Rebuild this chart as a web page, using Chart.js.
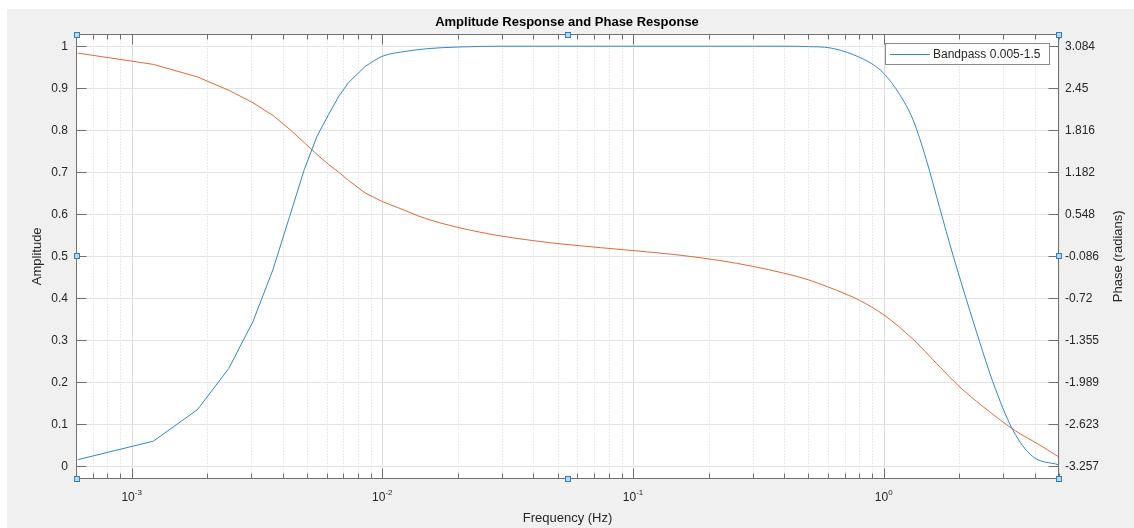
<!DOCTYPE html>
<html>
<head>
<meta charset="utf-8">
<script src="https://cdn.jsdelivr.net/npm/chart.js@4.4.1/dist/chart.umd.min.js"></script>
<style>
  html, body { margin: 0; padding: 0; background: #fff; }
  #wrap { width: 1134px; height: 528px; }
</style>
</head>
<body>
<div id="wrap"><canvas id="chart" width="1134" height="528"></canvas></div>
<script>
// amplitude response (left axis)
const ampFreq = [0.00061, 0.00122, 0.00183, 0.00244, 0.00305, 0.00366, 0.00427, 0.00488, 0.00549, 0.0061,
  0.00671, 0.00732, 0.00854, 0.01, 0.0125, 0.015, 0.02, 0.03, 0.1, 0.3, 0.4, 0.5, 0.61, 0.755, 0.908,
  0.994, 1.158, 1.308, 1.478, 1.67, 1.886, 2.131, 2.408, 2.72, 3.27, 3.92, 4.97];
const ampValues = [0.016, 0.060, 0.135, 0.233, 0.345, 0.468, 0.595, 0.706, 0.786, 0.837,
  0.881, 0.913, 0.952, 0.976, 0.988, 0.994, 0.998, 1.0, 1.0, 1.0, 1.0, 0.999, 0.996, 0.980, 0.956,
  0.937, 0.885, 0.825, 0.730, 0.616, 0.504, 0.399, 0.298, 0.202, 0.087, 0.024, 0.004];

// phase response (right axis, radians)
const phaseFreq = [0.00061, 0.00122, 0.00183, 0.00244, 0.00305, 0.00366, 0.00427, 0.00488, 0.00549, 0.0061,
  0.00671, 0.00732, 0.00854, 0.01, 0.0115, 0.0147, 0.02, 0.0297, 0.04, 0.055, 0.1, 0.146, 0.222, 0.302,
  0.398, 0.5, 0.6, 0.7, 0.8, 1.0, 1.31, 1.62, 2.0, 2.48, 3.32, 4.17, 4.97];
const phaseValues = [2.98, 2.81, 2.62, 2.42, 2.23, 2.04, 1.83, 1.63, 1.45, 1.30,
  1.18, 1.06, 0.87, 0.74, 0.65, 0.49, 0.35, 0.22, 0.15, 0.09, 0.0, -0.06, -0.15, -0.24,
  -0.34, -0.44, -0.55, -0.65, -0.75, -0.97, -1.34, -1.70, -2.05, -2.35, -2.71, -2.93, -3.11];

// the first samples are far apart on the log axis and drawn as straight segments
const sparseCount = 13;

const ampTicks = [0, 0.1, 0.2, 0.3, 0.4, 0.5, 0.6, 0.7, 0.8, 0.9, 1];
const phaseTickLabels = ['-3.257', '-2.623', '-1.989', '-1.355', '-0.72', '-0.086', '0.548', '1.182', '1.816', '2.45', '3.084'];
const decades = [-4, -3, -2, -1, 0];
const seriesLabel = 'Bandpass 0.005-1.5';

const freqMin = 0.00061, freqMax = 5;
const ampMin = -0.03, ampMax = 1.03;
const phaseLow = -3.257, phaseHigh = 3.084;
const phaseMin = phaseLow + (phaseHigh - phaseLow) * ampMin;
const phaseMax = phaseLow + (phaseHigh - phaseLow) * ampMax;

const FONT = '"Liberation Sans", Arial, Helvetica, sans-serif';
const BLUE = '#2f8acb', ORANGE = '#de6a3a';
const AXIS = '#707070', TEXT = '#262626';

const isMajor = v => Math.abs(Math.log10(v) - Math.round(Math.log10(v))) < 1e-9;
const toPoints = (xs, ys) => xs.map((f, i) => ({ x: f, y: ys[i] }));

const matlabLook = {
  id: 'matlabLook',
  beforeDraw(chart) {
    const ctx = chart.ctx, a = chart.chartArea;
    ctx.save();
    ctx.fillStyle = '#f0f0f0';
    ctx.fillRect(7, 9, chart.width - 7, chart.height - 9);
    ctx.fillStyle = '#ffffff';
    ctx.fillRect(a.left, a.top, a.right - a.left, a.bottom - a.top);
    ctx.restore();
  },
  beforeDatasetsDraw(chart) {
    const ctx = chart.ctx, a = chart.chartArea;
    const x = chart.scales.x, y = chart.scales.y;
    ctx.save();
    ctx.lineWidth = 1;
    // x grid: decades solid, the rest dotted
    x.ticks.forEach(t => {
      const px = Math.round(x.getPixelForValue(t.value)) + 0.5;
      ctx.beginPath();
      if (isMajor(t.value)) { ctx.strokeStyle = '#dddddd'; ctx.setLineDash([]); }
      else { ctx.strokeStyle = '#d6d6d6'; ctx.setLineDash([1, 2]); }
      ctx.moveTo(px, a.top); ctx.lineTo(px, a.bottom); ctx.stroke();
    });
    ctx.setLineDash([]);
    ctx.strokeStyle = '#e4e4e4';
    ampTicks.forEach(v => {
      const py = Math.round(y.getPixelForValue(v)) + 0.5;
      ctx.beginPath(); ctx.moveTo(a.left, py); ctx.lineTo(a.right, py); ctx.stroke();
    });
    ctx.restore();
  },
  afterDatasetsDraw(chart) {
    const ctx = chart.ctx, a = chart.chartArea;
    const x = chart.scales.x, y = chart.scales.y, y1 = chart.scales.y1;
    const L = Math.round(a.left) + 0.5, R = Math.round(a.right) - 0.5;
    const T = Math.round(a.top) + 0.5, B = Math.round(a.bottom) - 0.5;
    ctx.save();
    ctx.strokeStyle = AXIS;
    ctx.lineWidth = 1;
    ctx.strokeRect(L, T, R - L, B - T);
    // inward ticks
    ctx.beginPath();
    ampTicks.forEach(v => {
      const py = Math.round(y.getPixelForValue(v)) + 0.5;
      ctx.moveTo(L, py); ctx.lineTo(L + 10, py);
    });
    y1.ticks.forEach(t => {
      const py = Math.round(y1.getPixelForValue(t.value)) + 0.5;
      ctx.moveTo(R, py); ctx.lineTo(R - 10, py);
    });
    x.ticks.forEach(t => {
      const px = Math.round(x.getPixelForValue(t.value)) + 0.5;
      const len = isMajor(t.value) ? 10 : 5;
      ctx.moveTo(px, B); ctx.lineTo(px, B - len);
      ctx.moveTo(px, T); ctx.lineTo(px, T + len);
    });
    ctx.stroke();

    // x tick labels 10^n
    ctx.fillStyle = TEXT;
    ctx.textBaseline = 'alphabetic';
    ctx.textAlign = 'left';
    decades.forEach(e => {
      const v = Math.pow(10, e);
      if (v < freqMin || v > freqMax) return;
      const px = x.getPixelForValue(v);
      const exp = String(e);
      ctx.font = '12px ' + FONT;
      const w1 = ctx.measureText('10').width;
      ctx.font = '8px ' + FONT;
      const w2 = ctx.measureText(exp).width;
      const sx = px - (w1 + w2) / 2;
      ctx.font = '12px ' + FONT;
      ctx.fillText('10', sx, a.bottom + 22);
      ctx.font = '8px ' + FONT;
      ctx.fillText(exp, sx + w1, a.bottom + 16);
    });

    // right axis title, reading bottom to top
    ctx.save();
    ctx.translate(1118, (a.top + a.bottom) / 2);
    ctx.rotate(-Math.PI / 2);
    ctx.font = '13px ' + FONT;
    ctx.textAlign = 'center';
    ctx.textBaseline = 'middle';
    ctx.fillText('Phase (radians)', 0, 0);
    ctx.restore();

    // legend box inside the axes
    ctx.font = '12px ' + FONT;
    const tw = ctx.measureText(seriesLabel).width;
    const bw = Math.round(48 + tw + 9), bh = 21;
    const bx = Math.round(a.right) - 10 - bw, by = Math.round(a.top) + 9;
    ctx.fillStyle = '#ffffff';
    ctx.fillRect(bx, by, bw, bh);
    ctx.strokeStyle = '#8c8c8c';
    ctx.strokeRect(bx + 0.5, by + 0.5, bw, bh);
    ctx.strokeStyle = BLUE;
    ctx.beginPath();
    ctx.moveTo(bx + 5, by + 11.5); ctx.lineTo(bx + 45, by + 11.5);
    ctx.stroke();
    ctx.fillStyle = TEXT;
    ctx.textAlign = 'left';
    ctx.textBaseline = 'middle';
    ctx.fillText(seriesLabel, bx + 48, by + 11.5);

    // selection handles at corners and mid-edges
    const cx = Math.round((a.left + a.right) / 2), cy = Math.round((a.top + a.bottom) / 2);
    const pts = [[L, T], [cx, T], [R, T], [L, cy], [R, cy], [L, B], [cx, B], [R, B]];
    ctx.fillStyle = '#bcd8f0';
    ctx.strokeStyle = '#2f7fc1';
    pts.forEach(p => {
      const hx = Math.round(p[0]) - 3, hy = Math.round(p[1]) - 3;
      ctx.fillRect(hx, hy, 6, 6);
      ctx.strokeRect(hx + 0.5, hy + 0.5, 5, 5);
    });
    ctx.restore();
  }
};

const line = (data, color, axis, smooth) => ({
  data,
  borderColor: color,
  borderWidth: 1,
  pointRadius: 0,
  tension: 0,
  cubicInterpolationMode: smooth ? 'monotone' : 'default',
  yAxisID: axis
});

new Chart(document.getElementById('chart'), {
  type: 'line',
  data: {
    datasets: [
      line(toPoints(ampFreq.slice(0, sparseCount), ampValues.slice(0, sparseCount)), BLUE, 'y', false),
      line(toPoints(ampFreq.slice(sparseCount - 1), ampValues.slice(sparseCount - 1)), BLUE, 'y', true),
      line(toPoints(phaseFreq.slice(0, sparseCount), phaseValues.slice(0, sparseCount)), ORANGE, 'y1', false),
      line(toPoints(phaseFreq.slice(sparseCount - 1), phaseValues.slice(sparseCount - 1)), ORANGE, 'y1', true)
    ]
  },
  options: {
    responsive: false,
    animation: false,
    layout: { padding: 0 },
    plugins: {
      legend: { display: false },
      tooltip: { enabled: false },
      title: {
        display: true,
        text: 'Amplitude Response and Phase Response',
        color: '#000',
        font: { size: 13, weight: 'bold', family: FONT },
        padding: { top: 15, bottom: 3 }
      }
    },
    scales: {
      x: {
        type: 'logarithmic',
        min: freqMin,
        max: freqMax,
        afterBuildTicks: s => {
          const t = [];
          decades.forEach(e => {
            for (let m = 1; m <= 9; m++) {
              const v = m * Math.pow(10, e);
              if (v >= freqMin && v <= freqMax) t.push({ value: v });
            }
          });
          s.ticks = t;
        },
        afterFit: s => { s.height = 49; },
        ticks: { display: false },
        grid: { display: false },
        border: { display: false },
        title: {
          display: true,
          text: 'Frequency (Hz)',
          color: TEXT,
          font: { size: 13, family: FONT },
          padding: { top: 0, bottom: 2 }
        }
      },
      y: {
        position: 'left',
        min: ampMin,
        max: ampMax,
        afterBuildTicks: s => { s.ticks = ampTicks.map(v => ({ value: v })); },
        afterFit: s => { s.width = 76; },
        ticks: {
          padding: 8,
          color: TEXT,
          font: { size: 12, family: FONT },
          callback: v => String(v)
        },
        grid: { display: false, drawTicks: false },
        border: { display: false },
        title: {
          display: true,
          text: 'Amplitude',
          color: TEXT,
          font: { size: 13, family: FONT },
          padding: { top: 30, bottom: 0 }
        }
      },
      y1: {
        position: 'right',
        min: phaseMin,
        max: phaseMax,
        afterBuildTicks: s => { s.ticks = phaseTickLabels.map(l => ({ value: parseFloat(l) })); },
        afterFit: s => { s.width = 75; },
        ticks: {
          padding: 6,
          color: TEXT,
          font: { size: 12, family: FONT },
          callback: (v, i) => phaseTickLabels[i]
        },
        grid: { display: false, drawTicks: false },
        border: { display: false }
      }
    }
  },
  plugins: [matlabLook]
});
</script>
</body>
</html>
